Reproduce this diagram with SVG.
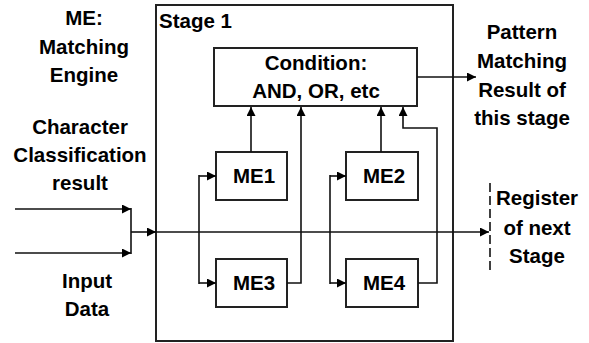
<svg xmlns="http://www.w3.org/2000/svg" width="589" height="343" viewBox="0 0 589 343">
<defs>
<style>
text{font-family:"Liberation Sans",Arial,sans-serif;font-weight:bold;font-size:20.5px;fill:#000;text-anchor:middle}
.box{fill:#fff;stroke:#222;stroke-width:2}
.ln{fill:none;stroke:#111;stroke-width:1.6}
.thin{fill:none;stroke:#111;stroke-width:1.3}
</style>
<marker id="ah" viewBox="0 0 10 10" refX="10" refY="5" markerWidth="9" markerHeight="9" markerUnits="userSpaceOnUse" orient="auto">
<path d="M0,0 L10,5 L0,10 z" fill="#000"/>
</marker>
</defs>
<g id="legend">
<text x="84" y="25">ME:</text>
<text x="84" y="54">Matching</text>
<text x="84" y="82">Engine</text>
</g>
<g id="char-label">
<text x="80" y="134">Character</text>
<text x="80" y="162">Classification</text>
<text x="80" y="190">result</text>
</g>
<g id="input-label">
<text x="87" y="288">Input</text>
<text x="87" y="316">Data</text>
</g>
<g id="stage">
<rect class="box" x="156" y="5" width="297" height="336" fill="none"/>
<text x="159" y="28" style="text-anchor:start">Stage 1</text>
</g>
<g id="condition">
<rect class="box" x="214" y="48" width="203" height="58"/>
<text x="316" y="70">Condition:</text>
<text x="316" y="98">AND, OR, etc</text>
</g>
<g id="me1"><rect class="box" x="216" y="152" width="71" height="48"/><text x="254" y="183">ME1</text></g>
<g id="me2"><rect class="box" x="346" y="152" width="72" height="48"/><text x="384" y="183">ME2</text></g>
<g id="me3"><rect class="box" x="216" y="259" width="71" height="48"/><text x="254" y="290">ME3</text></g>
<g id="me4"><rect class="box" x="346" y="259" width="72" height="48"/><text x="384" y="290">ME4</text></g>
<g id="output-label">
<text x="522" y="39">Pattern</text>
<text x="522" y="68">Matching</text>
<text x="522" y="97">Result of</text>
<text x="522" y="125">this stage</text>
</g>
<g id="register">
<line x1="490" y1="183" x2="490" y2="274" stroke="#111" stroke-width="1.6" stroke-dasharray="9,4"/>
<text x="537" y="205">Register</text>
<text x="537" y="235">of next</text>
<text x="537" y="263">Stage</text>
</g>
<g id="connectors">
<line class="ln" x1="15" y1="209" x2="131" y2="209" marker-end="url(#ah)"/>
<line class="ln" x1="15" y1="253" x2="131" y2="253" marker-end="url(#ah)"/>
<line class="ln" x1="131" y1="208" x2="131" y2="254"/>
<line class="ln" x1="131" y1="232" x2="156" y2="232" marker-end="url(#ah)"/>
<line class="thin" x1="156" y1="232" x2="489" y2="232" marker-end="url(#ah)"/>
<line class="ln" x1="199" y1="175" x2="199" y2="284"/>
<line class="ln" x1="199" y1="176" x2="216" y2="176" marker-end="url(#ah)"/>
<line class="ln" x1="199" y1="283" x2="216" y2="283" marker-end="url(#ah)"/>
<line class="ln" x1="330" y1="176" x2="346" y2="176" marker-end="url(#ah)"/>
<line class="ln" x1="330" y1="283" x2="346" y2="283" marker-end="url(#ah)"/>
<line class="ln" x1="330" y1="175" x2="330" y2="284"/>
<line class="ln" x1="251" y1="152" x2="251" y2="107" marker-end="url(#ah)"/>
<polyline class="ln" points="287,283 301,283 301,107" marker-end="url(#ah)"/>
<line class="ln" x1="381" y1="152" x2="381" y2="107" marker-end="url(#ah)"/>
<polyline class="ln" points="418,283 437,283 437,128 403,128 403,107" marker-end="url(#ah)"/>
<line class="ln" x1="417" y1="77" x2="476" y2="77" marker-end="url(#ah)"/>
</g>
</svg>
